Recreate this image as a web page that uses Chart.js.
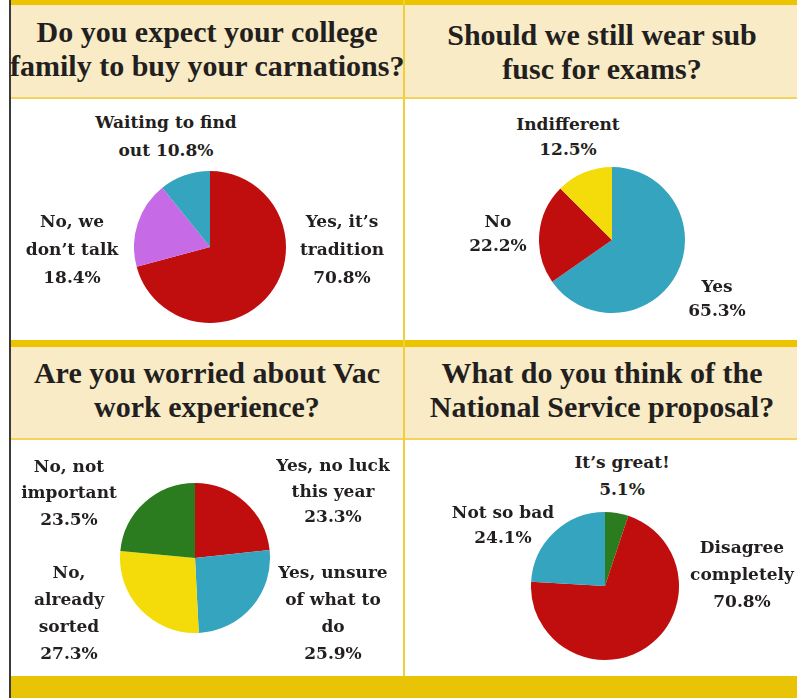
<!DOCTYPE html>
<html>
<head>
<meta charset="utf-8">
<script src="https://cdn.jsdelivr.net/npm/chart.js@4.4.1/dist/chart.umd.min.js"></script>
<style>
  body { margin: 0; background: #ffffff; }
  #page { position: relative; width: 797px; height: 698px; overflow: hidden; background: #ffffff; }
  .blk { position: absolute; }
  .title {
    position: absolute; width: 394px; text-align: center; white-space: nowrap;
    font-family: "Liberation Serif", serif; font-weight: bold; font-size: 30px;
    line-height: 34px; color: #231f20;
  }
  .lbl {
    position: absolute; width: 200px; margin-left: -100px; text-align: center;
    font-family: "DejaVu Serif", serif; font-weight: bold; font-size: 17px;
    color: #231f20; white-space: nowrap;
  }
  .pie { position: absolute; }
</style>
</head>
<body>
<div id="page"></div>
<script>
// colours used by the survey graphics
var rojo = '#c00d0d';
var azul = '#35a4bf';
var lila = '#c66ae6';
var amarillo = '#f4dc0a';
var verde = '#2b7b1f';

// --- survey 1
var carnationTitle = ['Do you expect your college', 'family to buy your carnations?'];
var carnationCats = [['Yes, it’s', 'tradition'], ['No, we', 'don’t talk'], ['Waiting to find', 'out']];
var carnationValues = [70.8, 18.4, 10.8];
var carnationColors = [rojo, lila, azul];

// --- survey 2
var subfuscTitle = ['Should we still wear sub', 'fusc for exams?'];
var subfuscCats = [['Yes'], ['No'], ['Indifferent']];
var subfuscValues = [65.3, 22.2, 12.5];
var subfuscColors = [azul, rojo, amarillo];

// --- survey 3
var vacTitle = ['Are you worried about Vac', 'work experience?'];
var vacCats = [['Yes, no luck', 'this year'], ['Yes, unsure', 'of what to', 'do'], ['No,', 'already', 'sorted'], ['No, not', 'important']];
var vacValues = [23.3, 25.9, 27.3, 23.5];
var vacColors = [rojo, azul, amarillo, verde];

// --- survey 4
var serviceTitle = ['What do you think of the', 'National Service proposal?'];
var serviceCats = [['It’s great!'], ['Disagree', 'completely'], ['Not so bad']];
var serviceValues = [5.1, 70.8, 24.1];
var serviceColors = [verde, rojo, azul];

var page = document.getElementById('page');

function caja(x, y, w, h, color) {
    var d = document.createElement('div');
    d.className = 'blk';
    d.style.left = x + 'px';
    d.style.top = y + 'px';
    d.style.width = w + 'px';
    d.style.height = h + 'px';
    d.style.background = color;
    page.appendChild(d);
}

// frame: bands, headers and rules
caja(11, 0, 786, 5, '#edc400');
caja(11, 5, 786, 92, '#f8ebc6');
caja(11, 97, 786, 2, '#f2d45c');
caja(11, 340, 786, 7, '#edc400');
caja(11, 347, 786, 91, '#f8ebc6');
caja(11, 438, 786, 2, '#f2d45c');
caja(11, 676, 786, 22, '#e9c305');
caja(403, 0, 2, 676, '#f1cf3a');
caja(9, 0, 2, 698, '#3a3a3a');

function titulo(lineas, x, y) {
    var d = document.createElement('div');
    d.className = 'title';
    d.style.left = x + 'px';
    d.style.top = y + 'px';
    d.innerHTML = lineas.join('<br>');
    page.appendChild(d);
}

function etiqueta(cat, valor, pos) {
    var lineas = cat.slice();
    var txt = valor.toFixed(1) + '%';
    if (pos.inline) {
        lineas[lineas.length - 1] += ' ' + txt;
    } else {
        lineas.push(txt);
    }
    var d = document.createElement('div');
    d.className = 'lbl';
    d.style.left = pos.x + 'px';
    // first baseline -> top of the line box
    d.style.top = (pos.y - pos.lh / 2 - 6) + 'px';
    d.style.lineHeight = pos.lh + 'px';
    d.innerHTML = lineas.join('<br>');
    page.appendChild(d);
}

function pastel(cats, valores, colores, cx, cy, r) {
    var cont = document.createElement('div');
    cont.className = 'pie';
    cont.style.left = (cx - r) + 'px';
    cont.style.top = (cy - r) + 'px';
    var canvas = document.createElement('canvas');
    canvas.width = r * 2;
    canvas.height = r * 2;
    cont.appendChild(canvas);
    page.appendChild(cont);

    return new Chart(canvas, {
        type: 'pie',
        data: {
            labels: cats.map(function (c) { return c.join(' '); }),
            datasets: [{
                data: valores,
                backgroundColor: colores,
                borderWidth: 0
            }]
        },
        options: {
            responsive: false,
            animation: false,
            layout: { padding: 0 },
            plugins: {
                legend: { display: false },
                tooltip: { enabled: false }
            }
        }
    });
}

titulo(carnationTitle, 10, 15);
titulo(subfuscTitle, 405, 18);
titulo(vacTitle, 10, 356);
titulo(serviceTitle, 405, 356);

pastel(carnationCats, carnationValues, carnationColors, 210, 247, 76);
pastel(subfuscCats, subfuscValues, subfuscColors, 612, 240, 73);
pastel(vacCats, vacValues, vacColors, 195, 558, 75);
pastel(serviceCats, serviceValues, serviceColors, 605, 586, 74);

// label placement (center x, first baseline y, line height)
var carnationPos = [{ x: 342, y: 227, lh: 28 }, { x: 72, y: 227, lh: 28 }, { x: 166, y: 128, lh: 28, inline: true }];
var subfuscPos = [{ x: 717, y: 292, lh: 24 }, { x: 498, y: 227, lh: 24 }, { x: 568, y: 130, lh: 25 }];
var vacPos = [{ x: 333, y: 472, lh: 25.5 }, { x: 333, y: 578, lh: 27 }, { x: 69, y: 578, lh: 27 }, { x: 69, y: 472, lh: 26.5 }];
var servicePos = [{ x: 622, y: 468, lh: 27 }, { x: 742, y: 553, lh: 27 }, { x: 503, y: 518, lh: 25 }];

carnationCats.forEach(function (c, i) { etiqueta(c, carnationValues[i], carnationPos[i]); });
subfuscCats.forEach(function (c, i) { etiqueta(c, subfuscValues[i], subfuscPos[i]); });
vacCats.forEach(function (c, i) { etiqueta(c, vacValues[i], vacPos[i]); });
serviceCats.forEach(function (c, i) { etiqueta(c, serviceValues[i], servicePos[i]); });
</script>
</body>
</html>
